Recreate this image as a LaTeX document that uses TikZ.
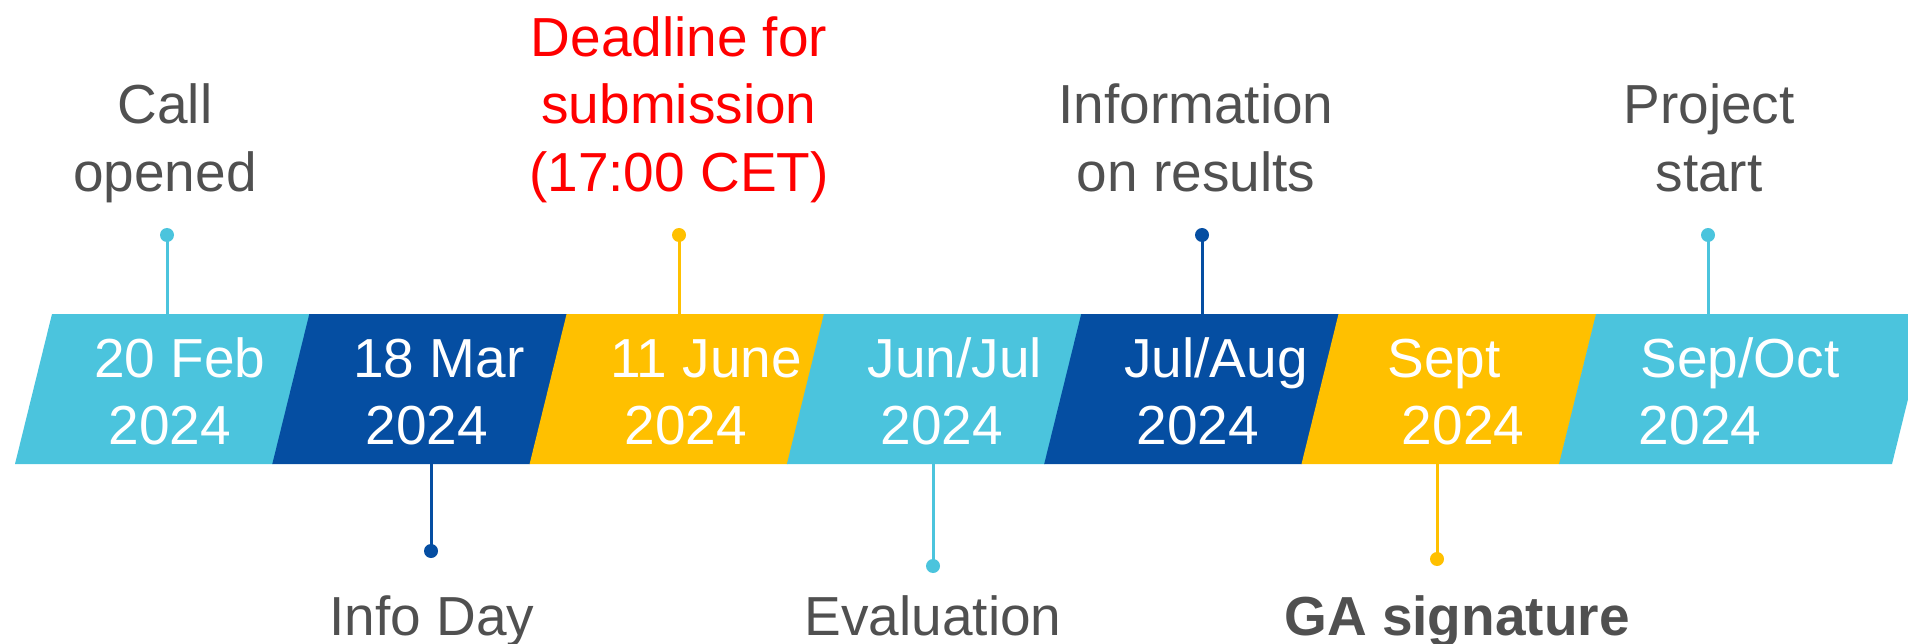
\documentclass[tikz,border=0pt]{standalone}
\usepackage{fontspec}
\setmainfont{Liberation Sans}
\definecolor{lb}{RGB}{75,196,221}
\definecolor{nv}{RGB}{5,78,162}
\definecolor{yl}{RGB}{255,192,0}
\definecolor{gr}{RGB}{80,80,80}
\definecolor{rd}{RGB}{255,0,0}
\begin{document}
\begin{tikzpicture}[x=1pt,y=-1pt,
 lbl/.style={anchor=base,inner sep=0pt,font=\fontsize{55}{66}\selectfont,text=gr},
 dlbl/.style={lbl,text=white},
 stem/.style={line width=3pt},
 dotc/.style={circle,inner sep=0pt,minimum size=14pt}]
\useasboundingbox (0,0) rectangle (1908,644);
\clip (0,0) rectangle (1908,644);
% bar segments
\foreach \i/\c in {0/lb,1/nv,2/yl,3/lb,4/nv,5/yl} {
 \fill[\c] ({52+257.3*\i},314) -- ({52.6+257.3*(\i+1)},314) -- ({15.6+257.3*(\i+1)},464) -- ({15+257.3*\i},464) -- cycle;
}
\fill[lb] (1596,314) -- (1929,314) -- (1892,464) -- (1559,464) -- cycle;
% dates
\node[dlbl] (d1a) at (180,377) {20 Feb};
\node[dlbl] (d1b) at (170,444) {2024};
\node[dlbl] (d2a) at (439,377) {18 Mar};
\node[dlbl] (d2b) at (427,444) {2024};
\node[dlbl] (d3a) at (706,377) {11 June};
\node[dlbl] (d3b) at (686,444) {2024};
\node[dlbl] (d4a) at (955,377) {Jun/Jul};
\node[dlbl] (d4b) at (942,444) {2024};
\node[dlbl] (d5a) at (1216,377) {Jul/Aug};
\node[dlbl] (d5b) at (1198,444) {2024};
\node[dlbl] (d6a) at (1444,377) {Sept};
\node[dlbl] (d6b) at (1463,444) {2024};
\node[dlbl] (d7a) at (1740,377) {Sep/Oct};
\node[dlbl] (d7b) at (1700,444) {2024};
% top stems
\coordinate (b1) at (167,314);
\coordinate (b3) at (679,314);
\coordinate (b5) at (1202,314);
\coordinate (b7) at (1708,314);
\node[dotc,fill=lb] (p1) at (167,235) {};
\node[dotc,fill=yl] (p3) at (679,235) {};
\node[dotc,fill=nv] (p5) at (1202,235) {};
\node[dotc,fill=lb] (p7) at (1708,235) {};
\draw[stem,lb] (p1.center) -- (b1);
\draw[stem,yl] (p3.center) -- (b3);
\draw[stem,nv] (p5.center) -- (b5);
\draw[stem,lb] (p7.center) -- (b7);
% bottom stems
\coordinate (b2) at (431,464);
\coordinate (b4) at (933,464);
\coordinate (b6) at (1437,464);
\node[dotc,fill=nv] (p2) at (431,551) {};
\node[dotc,fill=lb] (p4) at (933,566) {};
\node[dotc,fill=yl] (p6) at (1437,559) {};
\draw[stem,nv] (b2) -- (p2.center);
\draw[stem,lb] (b4) -- (p4.center);
\draw[stem,yl] (b6) -- (p6.center);
% top labels
\node[lbl] (t1a) at (165,124) {Call};
\node[lbl] (t1b) at (165,192) {opened};
\node[lbl,text=rd] (t3a) at (679,57) {Deadline for};
\node[lbl,text=rd] (t3b) at (679,124) {submission};
\node[lbl,text=rd] (t3c) at (679,192) {(17:00 CET)};
\node[lbl] (t5a) at (1196,124) {Information};
\node[lbl] (t5b) at (1196,192) {on results};
\node[lbl] (t7a) at (1709,124) {Project};
\node[lbl] (t7b) at (1709,192) {start};
% bottom labels
\node[lbl] (t2) at (432,635) {Info Day};
\node[lbl] (t4) at (933,635) {Evaluation};
\node[lbl,font=\fontsize{55}{66}\selectfont\bfseries] (t6) at (1457,635) {GA signature};
\end{tikzpicture}
\end{document}
